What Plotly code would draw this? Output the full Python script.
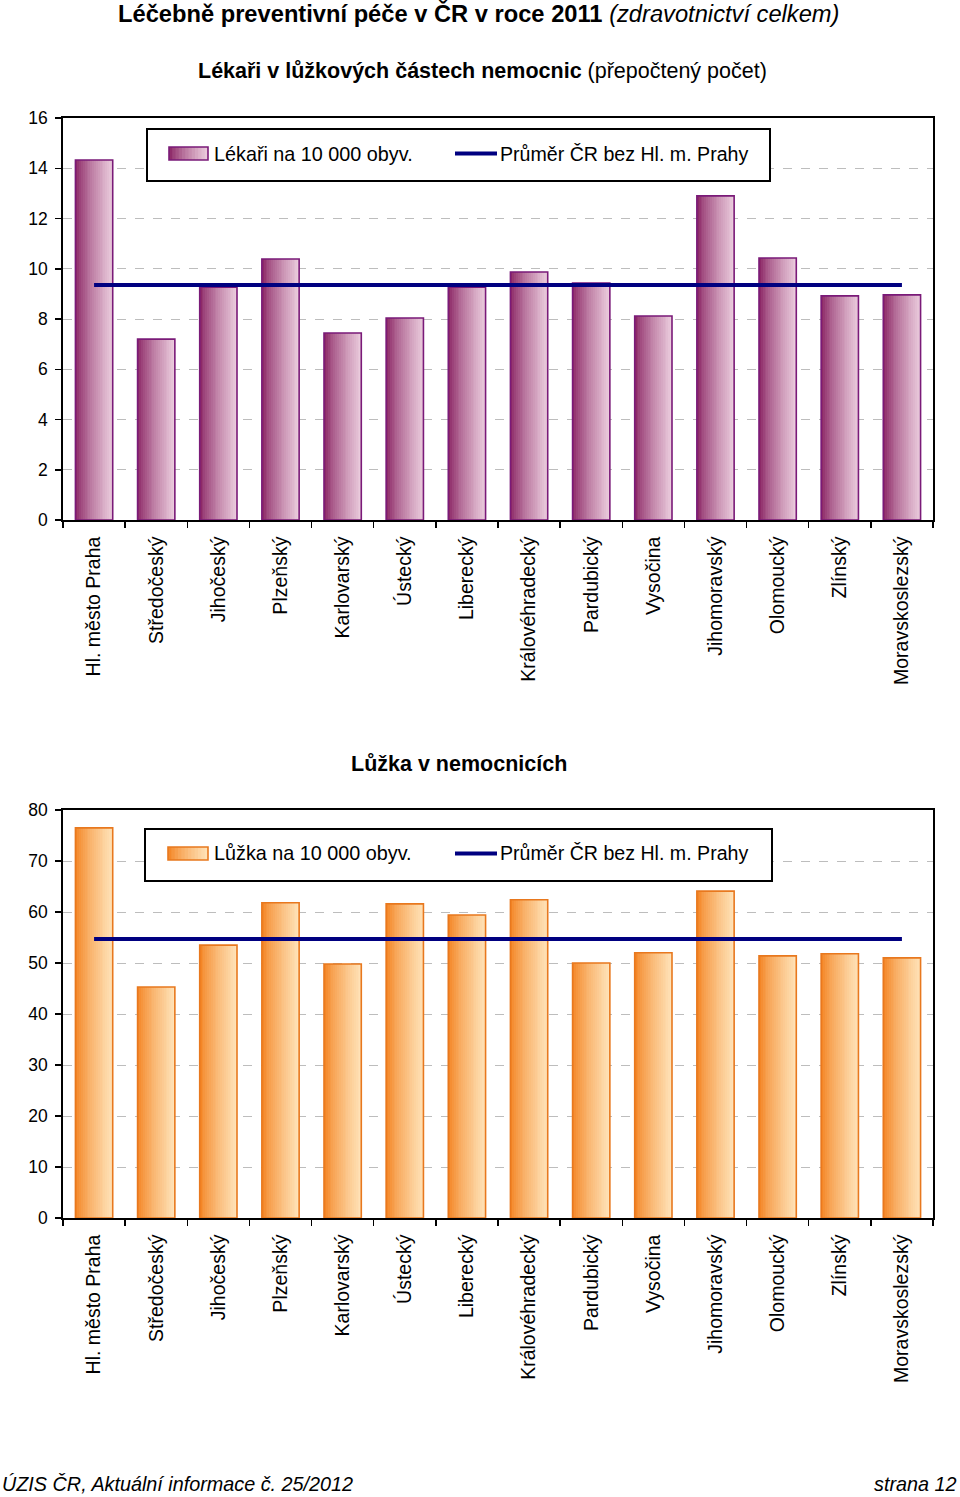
import plotly.graph_objects as go

# ---------------- data ----------------
regions = ["Hl. město Praha", "Středočeský", "Jihočeský", "Plzeňský", "Karlovarský",
           "Ústecký", "Liberecký", "Královéhradecký", "Pardubický", "Vysočina",
           "Jihomoravský", "Olomoucký", "Zlínský", "Moravskoslezský"]
lekari = [14.33, 7.20, 9.27, 10.39, 7.44, 8.04, 9.27, 9.87, 9.43, 8.12, 12.90, 10.43, 8.92, 8.96]
lekari_avg = 9.35
luzka = [76.5, 45.3, 53.5, 61.8, 49.8, 61.6, 59.4, 62.4, 50.0, 52.0, 64.1, 51.4, 51.8, 51.0]
luzka_avg = 54.7

lekari_y_ticks = [0, 2, 4, 6, 8, 10, 12, 14, 16]
luzka_y_ticks = [0, 10, 20, 30, 40, 50, 60, 70, 80]

# ---------------- styling ----------------
W, H = 960, 1497
FONT = "Arial, Liberation Sans, sans-serif"
BAR_W = 0.6
N_STRIPS = 20
PURPLE_DARK = (135, 30, 95)
PURPLE_LIGHT = (236, 206, 222)
PURPLE_EDGE = "#7a1a78"
ORANGE_DARK = (243, 128, 28)
ORANGE_LIGHT = (255, 228, 186)
ORANGE_EDGE = "#e8781e"
NAVY = "#000080"


def px_x(p):
    return p / W


def px_y(p):
    return 1 - p / H


def mix(c1, c2, t):
    t = t ** 0.75
    return "rgb(%d,%d,%d)" % tuple(round(a + (b - a) * t) for a, b in zip(c1, c2))


fig = go.Figure()


def add_chart(values, avg, xa, ya, dark, light, edge):
    step = BAR_W / N_STRIPS
    for i in range(N_STRIPS):
        t = (i + 0.5) / N_STRIPS
        w = step * 1.4 if i < N_STRIPS - 1 else step
        fig.add_trace(go.Bar(
            x=regions, y=values, width=w, offset=-BAR_W / 2 + i * step,
            marker=dict(color=mix(dark, light, t), line=dict(width=0)),
            xaxis=xa, yaxis=ya, showlegend=False, hoverinfo="skip"))
    fig.add_trace(go.Bar(
        x=regions, y=values, width=BAR_W, offset=-BAR_W / 2,
        marker=dict(color="rgba(0,0,0,0)", line=dict(color=edge, width=1.6)),
        xaxis=xa, yaxis=ya, showlegend=False))
    fig.add_trace(go.Scatter(
        x=regions, y=[avg] * len(regions), mode="lines",
        line=dict(color=NAVY, width=4), xaxis=xa, yaxis=ya, showlegend=False))


add_chart(lekari, lekari_avg, "x", "y", PURPLE_DARK, PURPLE_LIGHT, PURPLE_EDGE)
add_chart(luzka, luzka_avg, "x2", "y2", ORANGE_DARK, ORANGE_LIGHT, ORANGE_EDGE)

xcommon = dict(type="category", tickson="boundaries", ticks="outside", ticklen=6,
               tickwidth=1.5, tickcolor="black", tickangle=-90, showline=True,
               linecolor="black", linewidth=1.8, mirror=True, showgrid=False,
               tickfont=dict(family=FONT, size=19.5, color="black"),
               ticklabelstandoff=7, domain=[px_x(63), px_x(933)], fixedrange=True,
               automargin=False)
ycommon = dict(ticks="outside", ticklen=6, tickwidth=1.5, tickcolor="black",
               showline=True, linecolor="black", linewidth=1.8, mirror=True,
               showgrid=True, gridcolor="#bdbdbd", griddash="dash", gridwidth=1,
               zeroline=False, tickfont=dict(family=FONT, size=17.5, color="black"),
               ticklabelstandoff=4, fixedrange=True, automargin=False)

fig.update_layout(
    width=W, height=H, margin=dict(l=0, r=0, t=0, b=0, pad=0),
    paper_bgcolor="white", plot_bgcolor="white", barmode="overlay",
    bargap=0, showlegend=False,
    xaxis=dict(xcommon, anchor="y"),
    yaxis=dict(ycommon, anchor="x", range=[0, 16], tickvals=lekari_y_ticks,
               domain=[px_y(520), px_y(118)]),
    xaxis2=dict(xcommon, anchor="y2"),
    yaxis2=dict(ycommon, anchor="x2", range=[0, 80], tickvals=luzka_y_ticks,
                domain=[px_y(1218), px_y(810)]),
)

annotations = []
shapes = []


def text(x, y, s, size, anchor="center"):
    annotations.append(dict(x=px_x(x), y=px_y(y), xref="paper", yref="paper",
                            text=s, showarrow=False, xanchor=anchor, yanchor="middle",
                            font=dict(family=FONT, size=size, color="black")))


text(478, 14, "<b>Léčebně preventivní péče v ČR v roce 2011</b> <i>(zdravotnictví celkem)</i>", 23.7)
text(482, 71, "<b>Lékaři v lůžkových částech nemocnic</b> (přepočtený počet)", 21.5)
text(459, 764, "<b>Lůžka v nemocnicích</b>", 21.5)
text(0, 1484, "<i>ÚZIS ČR, Aktuální informace č. 25/2012</i>", 19.8, "left")
text(958, 1484, "<i>strana 12</i>", 19.8, "right")


def legend(box, sw, label, dark, light, edge, line_x, text_x):
    bx0, by0, bx1, by1 = box
    shapes.append(dict(type="rect", xref="paper", yref="paper", layer="above",
                       x0=px_x(bx0), x1=px_x(bx1), y0=px_y(by1), y1=px_y(by0),
                       line=dict(color="black", width=2), fillcolor="white"))
    sx0, sy0, sx1, sy1 = sw
    n = 12
    step = (sx1 - sx0) / n
    for i in range(n):
        t = (i + 0.5) / n
        shapes.append(dict(type="rect", xref="paper", yref="paper", layer="above",
                           x0=px_x(sx0 + i * step), x1=px_x(sx0 + (i + 1.3) * step if i < n - 1 else sx1),
                           y0=px_y(sy1), y1=px_y(sy0), line=dict(width=0),
                           fillcolor=mix(dark, light, t)))
    shapes.append(dict(type="rect", xref="paper", yref="paper", layer="above",
                       x0=px_x(sx0), x1=px_x(sx1), y0=px_y(sy1), y1=px_y(sy0),
                       line=dict(color=edge, width=1.6), fillcolor="rgba(0,0,0,0)"))
    ym = (sy0 + sy1) / 2
    text(sx1 + 4, ym, label, 19.8, "left")
    shapes.append(dict(type="line", xref="paper", yref="paper", layer="above",
                       x0=px_x(line_x[0]), x1=px_x(line_x[1]), y0=px_y(ym), y1=px_y(ym),
                       line=dict(color=NAVY, width=4)))
    text(text_x, ym, "Průměr ČR bez Hl. m. Prahy", 19.6, "left")


legend((147, 129, 770, 181), (169, 147, 208, 160), "Lékaři na 10 000 obyv.",
       PURPLE_DARK, PURPLE_LIGHT, PURPLE_EDGE, (455, 497), 498)
legend((145, 829, 772, 881), (168, 847, 208, 860), "Lůžka na 10 000 obyv.",
       ORANGE_DARK, ORANGE_LIGHT, ORANGE_EDGE, (455, 497), 498)

fig.update_layout(annotations=annotations, shapes=shapes)
fig.write_html("out.html", config={"displayModeBar": False, "staticPlot": True},
               post_script="document.body.style.margin='0';document.body.style.overflow='hidden';")
